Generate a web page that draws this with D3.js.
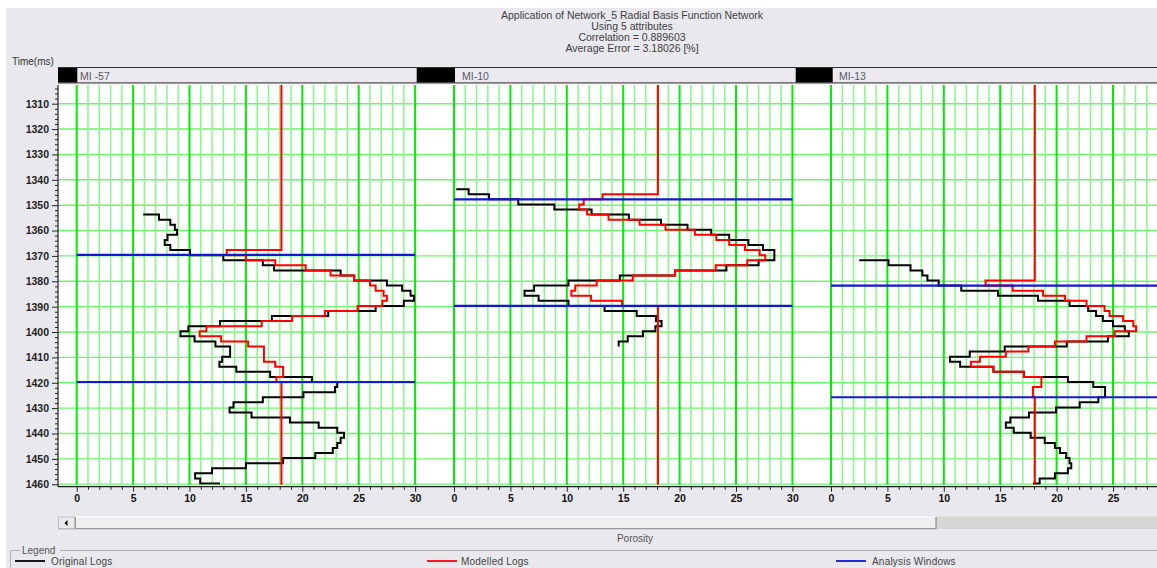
<!DOCTYPE html>
<html><head><meta charset="utf-8">
<script src="https://cdn.jsdelivr.net/npm/d3@7"></script>
<style>
body{margin:0;background:#fff;}
svg{display:block;font-family:"Liberation Sans",Arial,sans-serif;}
</style>
</head><body>
<svg id="c" width="1157" height="568"></svg>
<script>
// ---------------- data ----------------
const titleLines = [
  "Application of Network_5 Radial Basis Function Network",
  "Using 5 attributes",
  "Correlation = 0.889603",
  "Average Error = 3.18026 [%]"
];
const wellNames = ["MI -57", "MI-10", "MI-13"];
const porosityTicks = [0, 5, 10, 15, 20, 25, 30];
const timeTicks = [1310,1320,1330,1340,1350,1360,1370,1380,1390,1400,1410,1420,1430,1440,1450,1460];
const legendLabels = ["Original Logs", "Modelled Logs", "Analysis Windows"];

// MI-57
const mi57OrigTime = [1353.7,1353.7,1355.7,1357.7,1359.7,1361.7,1363.7,1365.7,1367.7,1369.7,1371.7,1373.7,1375.7,1377.7,1379.7,1381.7,1383.7,1385.7,1387.7,1389.7,1391.7,1393.7,1395.7,1397.7,1399.7,1401.7,1403.7,1405.7,1409.7,1411.7,1413.7,1415.7,1417.7,1419.7,1421.7,1423.7,1425.7,1427.7,1429.7,1431.7,1433.7,1435.7,1437.7,1439.7,1441.7,1443.7,1445.7,1447.7,1449.7,1451.7,1453.7,1455.7,1457.7,1459.7];
const mi57OrigPor  = [5.9,7.3,8.3,8.7,8.9,8.05,7.8,8.3,10.05,13.0,16.5,17.5,23.4,24.6,27.5,28.85,29.6,29.9,29.0,26.5,22.3,17.3,12.7,9.9,9.2,10.45,12.3,13.6,12.9,12.65,14.15,17.15,20.85,23.1,22.9,20.1,16.5,13.9,13.55,15.5,18.9,21.45,23.1,23.7,23.4,23.1,22.7,21.15,18.3,15.0,12.0,10.5,10.95,12.7];
const mi57ModTime  = [1300,1367.7,1369.7,1371.7,1373.7,1375.7,1377.7,1379.7,1381.7,1383.7,1385.7,1387.7,1389.7,1391.7,1393.7,1395.7,1397.7,1399.7,1401.7,1403.7,1405.7,1411.7,1413.7,1417.7,1419.7,1461];
const mi57ModPor   = [18.15,13.3,15.0,17.6,20.3,22.5,24.6,26.0,26.5,27.2,27.5,27.1,24.9,22.0,19.1,16.4,11.5,10.9,12.8,15.2,16.6,17.6,18.3,17.7,18.15,18.15];

// MI-10
const mi10OrigTime = [1343.7,1343.7,1345.7,1347.7,1349.7,1351.7,1353.7,1355.7,1357.7,1359.7,1361.7,1363.7,1365.7,1367.7,1371.7,1373.7,1375.7,1377.7,1379.7,1381.7,1383.7,1385.7,1387.7,1389.7,1391.7,1393.7,1395.7,1397.7,1399.7,1401.7,1403.7,1405.7];
const mi10OrigPor  = [0.2,1.3,3.1,5.7,8.9,12.2,15.5,18.35,20.7,22.8,24.4,26.1,27.4,28.4,27.0,24.15,19.6,14.7,10.15,7.1,6.25,7.5,10.15,13.35,16.2,17.9,18.4,17.85,16.75,15.4,14.6,14.6];
const mi10ModTime  = [1300,1345.7,1347.7,1349.7,1351.7,1353.7,1355.7,1357.7,1359.7,1361.7,1363.7,1365.7,1367.7,1369.7,1371.7,1373.7,1375.7,1377.7,1379.7,1381.7,1383.7,1385.7,1387.7,1389.7,1461];
const mi10ModPor   = [18.08,13.17,11.5,11.1,11.8,13.7,16.45,18.75,21.35,23.25,24.4,25.8,27.1,27.6,26.0,23.2,19.6,15.85,12.65,10.75,10.4,12.15,14.9,18.08,18.08];

// MI-13
const mi13OrigTime = [1371.7,1371.7,1373.7,1375.7,1377.7,1379.7,1381.7,1383.7,1385.7,1387.7,1389.7,1391.7,1393.7,1395.7,1397.7,1399.7,1401.7,1403.7,1405.7,1407.7,1409.7,1411.7,1413.7,1415.7,1417.7,1419.7,1421.7,1425.7,1427.7,1429.7,1431.7,1433.7,1435.7,1437.7,1439.7,1441.7,1443.7,1445.7,1447.7,1449.7,1451.7,1453.7,1455.7,1457.7,1459.7];
const mi13OrigPor  = [2.5,5.1,7.05,8.1,8.55,9.55,11.55,14.8,18.35,21.15,22.8,23.5,24.1,25.0,26.05,26.4,24.55,20.9,15.4,12.3,10.55,11.45,14.4,17.1,21.0,23.25,24.3,23.7,22.05,19.95,17.55,15.9,15.5,16.2,17.7,18.95,19.85,20.3,20.85,21.15,21.3,21.0,19.85,18.5,17.9];
const mi13ModTime  = [1300,1379.7,1381.7,1383.7,1385.7,1387.7,1389.7,1391.7,1393.7,1395.7,1397.7,1399.7,1401.7,1403.7,1405.7,1407.7,1409.7,1411.7,1413.7,1415.7,1417.7,1421.7,1425.7,1461];
const mi13ModPor   = [18.07,13.7,16.1,18.8,20.75,22.65,24.25,24.7,25.9,26.8,27.05,25.15,22.65,19.85,17.5,15.5,13.2,12.4,14.4,17.1,18.65,17.9,18.07,18.07];

// analysis windows (top, base) per well
const windowTop  = [1369.6, 1347.7, 1381.7];
const windowBase = [1419.7, 1389.7, 1425.7];

// ---------------- layout ----------------
const W = 1157, H = 568;
const plotLeft = 58, plotTop = 85, plotBottom = 486;
const panelX0 = [76.7, 454, 831];
const unitPx = 11.28;

const svg = d3.select("#c");
svg.append("rect").attr("width", W).attr("height", H).attr("fill", "#ffffff");
svg.append("rect").attr("x", 6).attr("y", 8).attr("width", W - 6).attr("height", H - 8).attr("fill", "#e9e8ec");

const y = d3.scaleLinear().domain([1302.75, 1460]).range([85.3, 484.25]);
const xs = panelX0.map(x0 => d3.scaleLinear().domain([0, 30]).range([x0, x0 + 30 * unitPx]));

// title
svg.append("g").selectAll("text").data(titleLines).join("text")
  .attr("x", 632).attr("y", (d, i) => 18.5 + i * 11.2)
  .attr("text-anchor", "middle").attr("font-size", "10.5px").attr("fill", "#3e3e44")
  .text(d => d);

svg.append("text").attr("x", 12).attr("y", 64.5).attr("font-size", "10px").attr("fill", "#333")
  .text("Time(ms)");

// headers
const hdr = svg.append("g");
hdr.append("rect").attr("x", plotLeft).attr("y", 67).attr("width", W - plotLeft).attr("height", 16)
  .attr("fill", "#ebe9ee");
const blackStarts = [58, 416.7, 795.7], blackEnds = [77.3, 455, 832.7];
blackStarts.forEach((s, i) => {
  hdr.append("rect").attr("x", s).attr("y", 67).attr("width", blackEnds[i] - s).attr("height", 16).attr("fill", "#000");
});
hdr.append("line").attr("x1", plotLeft).attr("x2", W).attr("y1", 67.5).attr("y2", 67.5).attr("stroke", "#333").attr("stroke-width", 1.2);
hdr.append("line").attr("x1", plotLeft).attr("x2", W).attr("y1", 82.8).attr("y2", 82.8).attr("stroke", "#555").attr("stroke-width", 1.2);
const labelX = [80, 462, 839];
hdr.selectAll("text.w").data(wellNames).join("text").attr("class", "w")
  .attr("x", (d, i) => labelX[i]).attr("y", 79.5).attr("font-size", "10.5px").attr("fill", "#5a5a66")
  .text(d => d);

// plot area
svg.append("rect").attr("x", plotLeft).attr("y", plotTop - 0.5).attr("width", W - plotLeft)
  .attr("height", plotBottom - plotTop).attr("fill", "#ffffff");

svg.append("clipPath").attr("id", "clip").append("rect")
  .attr("x", plotLeft).attr("y", plotTop).attr("width", W - plotLeft).attr("height", 484.8 - plotTop);
const plot = svg.append("g").attr("clip-path", "url(#clip)");

// horizontal grid
plot.append("g").selectAll("line").data(timeTicks).join("line")
  .attr("x1", plotLeft).attr("x2", W).attr("y1", d => y(d)).attr("y2", d => y(d))
  .attr("stroke", "#6cf56c").attr("stroke-width", 1.4);

// vertical grid per panel
const unitVals = d3.range(0, 31);
xs.forEach(sx => {
  plot.append("g").selectAll("line").data(unitVals).join("line")
    .attr("x1", d => sx(d)).attr("x2", d => sx(d)).attr("y1", plotTop).attr("y2", 485)
    .attr("stroke", d => d % 5 === 0 ? "#00ee00" : "#86f986")
    .attr("stroke-width", d => d % 5 === 0 ? 2 : 1.5);
});

// curves
const mkLine = sx => d3.line().x(d => sx(d[0])).y(d => y(d[1])).curve(d3.curveStepBefore);
const origSets = [[mi57OrigPor, mi57OrigTime], [mi10OrigPor, mi10OrigTime], [mi13OrigPor, mi13OrigTime]];
const modSets  = [[mi57ModPor, mi57ModTime], [mi10ModPor, mi10ModTime], [mi13ModPor, mi13ModTime]];
origSets.forEach((s, i) => {
  plot.append("path").datum(d3.zip(s[0], s[1])).attr("d", mkLine(xs[i]))
    .attr("fill", "none").attr("stroke", "#000").attr("stroke-width", 2).attr("stroke-linejoin", "miter");
});
modSets.forEach((s, i) => {
  plot.append("path").datum(d3.zip(s[0], s[1])).attr("d", mkLine(xs[i]))
    .attr("fill", "none").attr("stroke", "#ff0000").attr("stroke-width", 2).attr("stroke-linejoin", "miter");
});
// analysis windows
xs.forEach((sx, i) => {
  [windowTop[i], windowBase[i]].forEach(t => {
    plot.append("line").attr("x1", sx(0)).attr("x2", sx(30)).attr("y1", y(t)).attr("y2", y(t))
      .attr("stroke", "#1515d5").attr("stroke-width", 2.2);
  });
});

// y axis
const yAxis = d3.axisLeft(y).tickValues(d3.range(1304, 1461, 2))
  .tickFormat(d => d % 10 === 0 ? d : "").tickSizeInner(3).tickSizeOuter(0).tickPadding(3);
const gy = svg.append("g").attr("transform", `translate(${plotLeft},0)`).call(yAxis);
gy.select(".domain").remove();
gy.selectAll(".tick line").attr("stroke", "#222")
  .attr("x2", d => d % 10 === 0 ? -6 : -3);
gy.selectAll(".tick text").attr("x", -9).attr("font-size", "10.5px").attr("font-weight", "bold")
  .attr("fill", "#222").attr("font-family", "Liberation Sans, Arial, sans-serif");
svg.append("line").attr("x1", plotLeft).attr("x2", plotLeft).attr("y1", plotTop).attr("y2", 487)
  .attr("stroke", "#222").attr("stroke-width", 1.2);

// x axes (only ticks that fall inside the window)
svg.append("line").attr("x1", plotLeft).attr("x2", W).attr("y1", 486.7).attr("y2", 486.7)
  .attr("stroke", "#222").attr("stroke-width", 1.2);
xs.forEach(sx => {
  const visible = unitVals.filter(d => sx(d) <= W);
  const ax = d3.axisBottom(sx).tickValues(visible)
    .tickFormat(d => porosityTicks.includes(d) ? d : "").tickSizeInner(3).tickSizeOuter(0).tickPadding(4);
  const g = svg.append("g").attr("transform", "translate(0,486.7)").call(ax);
  g.select(".domain").remove();
  g.selectAll(".tick line").attr("stroke", "#222").attr("y2", d => d % 5 === 0 ? 5 : 3);
  g.selectAll(".tick text").attr("y", 8).attr("font-size", "10.5px").attr("font-weight", "bold")
    .attr("fill", "#111").attr("font-family", "Liberation Sans, Arial, sans-serif");
});

// scrollbar
const sb = svg.append("g");
sb.append("rect").attr("x", 58).attr("y", 516.5).attr("width", W - 58).attr("height", 12.5).attr("fill", "#efeef1");
sb.append("rect").attr("x", 936).attr("y", 516.5).attr("width", W - 936).attr("height", 12.5).attr("fill", "#d5d5d3");
sb.append("line").attr("x1", 58).attr("x2", 936).attr("y1", 517).attr("y2", 517).attr("stroke", "#ffffff");
sb.append("line").attr("x1", 58).attr("x2", 936).attr("y1", 528.7).attr("y2", 528.7).attr("stroke", "#9a9a9a").attr("stroke-width", 1.2);
sb.append("line").attr("x1", 936).attr("x2", 936).attr("y1", 517).attr("y2", 529).attr("stroke", "#8e8e8e").attr("stroke-width", 1.2);
sb.append("rect").attr("x", 58.5).attr("y", 517).attr("width", 16).attr("height", 11.5).attr("fill", "#eae9ec")
  .attr("stroke", "#b5b5b5").attr("stroke-width", 0.8);
sb.append("line").attr("x1", 75.5).attr("x2", 75.5).attr("y1", 517).attr("y2", 529).attr("stroke", "#9a9a9a");
sb.append("path").attr("d", "M64.5,523 L67.5,520 L67.5,526 Z").attr("fill", "#000");

svg.append("text").attr("x", 635).attr("y", 541.5).attr("text-anchor", "middle").attr("font-size", "10px")
  .attr("fill", "#555").text("Porosity");

// legend group box
const lg = svg.append("g");
lg.append("path").attr("d", `M20,550.5 L12,550.5 Q10.5,550.5 10.5,552 L10.5,${H}`).attr("fill", "none")
  .attr("stroke", "#b0b0b0").attr("stroke-width", 1);
lg.append("line").attr("x1", 60).attr("x2", W).attr("y1", 550.5).attr("y2", 550.5).attr("stroke", "#b0b0b0");
lg.append("text").attr("x", 22).attr("y", 553.5).attr("font-size", "10px").attr("fill", "#555").text("Legend");
const legColors = ["#000000", "#ff0000", "#1515d5"];
const legX = [15, 427, 836];
legendLabels.forEach((lab, i) => {
  lg.append("line").attr("x1", legX[i]).attr("x2", legX[i] + 30).attr("y1", 561).attr("y2", 561)
    .attr("stroke", legColors[i]).attr("stroke-width", 1.8);
  lg.append("text").attr("x", legX[i] + (i === 1 ? 34 : 36)).attr("y", 564.5).attr("font-size", "10px")
    .attr("fill", "#444").attr("letter-spacing", "0.2px").text(lab);
});
</script>
</body></html>
